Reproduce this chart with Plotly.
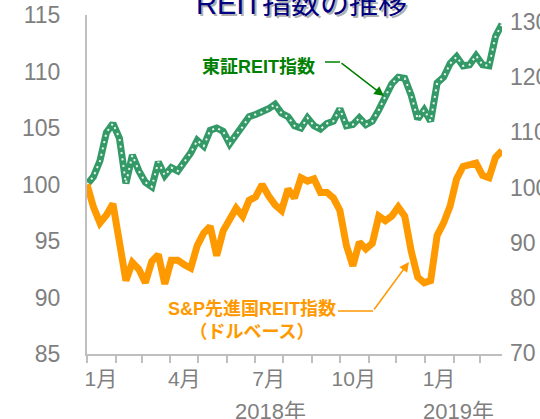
import pandas as pd
import plotly.graph_objects as go

# ---- data ----
dates = pd.date_range("2018-01-01", periods=65, freq="7D")
tse_reit = [100.0, 100.7, 102.1, 104.6, 105.4, 104.1, 100.1, 102.6, 101.2, 100.2,
            99.8, 102.0, 100.8, 101.5, 101.2, 102.0, 102.8, 103.9, 103.4, 104.8,
            105.0, 104.7, 103.6, 104.4, 105.1, 106.0, 106.2, 106.4, 106.7, 107.1,
            106.3, 106.0, 105.2, 105.0, 105.9, 105.2, 104.9, 105.4, 105.6, 106.7,
            105.2, 105.3, 105.9, 105.3, 105.6, 106.6, 107.8, 108.9, 109.5, 109.4,
            107.9, 105.8, 106.6, 105.6, 109.0, 109.5, 110.7, 111.3, 110.5, 110.6,
            111.4, 110.6, 110.5, 113.1, 114.2]
sp_reit = [100.0, 98.0, 96.6, 97.3, 98.3, 94.6, 91.5, 93.1, 92.5, 91.3,
           93.2, 93.8, 91.2, 93.3, 93.3, 92.9, 92.6, 94.6, 95.7, 96.3,
           93.7, 95.9, 97.0, 97.9, 97.2, 98.6, 98.9, 100.0, 99.0, 98.2,
           97.7, 99.6, 98.8, 100.6, 100.3, 100.5, 99.3, 99.3, 98.8, 97.7,
           94.6, 92.8, 94.9, 94.3, 94.8, 97.2, 96.8, 97.2, 98.0, 97.2,
           94.1, 91.8, 91.3, 91.5, 95.5, 96.6, 98.1, 100.5, 101.6, 101.8,
           101.9, 100.8, 100.6, 102.4, 103.0]

x_label_dates = ["2018-01-16", "2018-04-16", "2018-07-16", "2018-10-16", "2019-01-16"]
x_labels = ["1月", "4月", "7月", "10月", "1月"]
month_starts = pd.date_range("2018-01-01", "2019-03-01", freq="MS")
left_ticks = [85, 90, 95, 100, 105, 110, 115]
right_ticks = [70, 80, 90, 100, 110, 120, 130]
years = ["2018年", "2019年"]

title = "REIT指数の推移"
label_tse = "東証REIT指数"
label_sp = "S&amp;P先進国REIT指数<br>（ドルベース）"

GREEN = "#339966"
ORANGE = "#ff9900"
GRAY = "#7f7f7f"
AXIS = "#bfbfbf"
FONT = "Liberation Sans, Arial, Noto Sans CJK JP"

# plot area in pixels
L, R, T, B = 87, 502, 15, 354
W, H = 540, 419


def pxx(v):
    return (v - L) / (R - L)


def pxy(v):
    return (B - v) / (B - T)


fig = go.Figure()
fig.add_trace(go.Scatter(x=dates, y=tse_reit, mode="lines",
                         line=dict(color=GREEN, width=7), hoverinfo="skip",
                         showlegend=False))
fig.add_trace(go.Scatter(x=dates, y=tse_reit, mode="lines",
                         line=dict(color="#eef7f2", width=2, dash="2px,4.5px"),
                         hoverinfo="skip", showlegend=False))
fig.add_trace(go.Scatter(x=dates, y=sp_reit, mode="lines",
                         line=dict(color=ORANGE, width=7), hoverinfo="skip",
                         showlegend=False))
fig.add_trace(go.Scatter(x=[dates[0]], y=[100], yaxis="y2", mode="markers",
                         marker=dict(opacity=0), hoverinfo="skip",
                         showlegend=False))

fig.update_layout(
    width=W, height=H, autosize=False,
    margin=dict(l=L, r=W - R, t=T, b=H - B, pad=0),
    paper_bgcolor="white", plot_bgcolor="white",
    font=dict(family=FONT, color=GRAY),
    xaxis=dict(type="date", range=["2018-01-01", "2019-03-25"], automargin=False,
               tickmode="array", tickvals=x_label_dates, ticktext=x_labels,
               ticks="", showgrid=False, zeroline=False,
               showline=True, linecolor=AXIS, linewidth=2,
               tickfont=dict(size=21, color=GRAY, family=FONT),
               ticklabelstandoff=5,
               minor=dict(tickmode="array", tickvals=list(month_starts),
                          ticks="outside", ticklen=7, tickcolor=AXIS,
                          tickwidth=2, showgrid=False)),
    yaxis=dict(range=[85, 115], tickmode="array", tickvals=left_ticks,
               automargin=False,
               ticks="", showgrid=False, zeroline=False,
               showline=True, linecolor=AXIS, linewidth=2,
               tickfont=dict(size=23, color=GRAY, family=FONT),
               ticklabelstandoff=20),
    yaxis2=dict(range=[69.8, 131.3], overlaying="y", side="right",
                automargin=False,
                tickmode="array", tickvals=right_ticks, ticks="",
                showgrid=False, zeroline=False, showline=False,
                tickfont=dict(size=23, color=GRAY, family=FONT),
                ticklabelstandoff=7),
)

ann = []
# title with shadow
ann.append(dict(text=title, xref="paper", yref="paper", x=pxx(303), y=pxy(6),
                xanchor="center", yanchor="middle", showarrow=False,
                font=dict(size=29, color="#b0b0b0", family=FONT)))
ann.append(dict(text=title, xref="paper", yref="paper", x=pxx(301), y=pxy(4),
                xanchor="center", yanchor="middle", showarrow=False,
                font=dict(size=29, color="#000080", family=FONT)))
# year labels
ann.append(dict(text=years[0], xref="paper", yref="paper", x=pxx(270), y=pxy(411),
                xanchor="center", yanchor="middle", showarrow=False,
                font=dict(size=22, color=GRAY, family=FONT)))
ann.append(dict(text=years[1], xref="paper", yref="paper", x=pxx(458), y=pxy(411),
                xanchor="center", yanchor="middle", showarrow=False,
                font=dict(size=22, color=GRAY, family=FONT)))
# series labels
ann.append(dict(text="<b>" + label_tse + "</b>", xref="paper", yref="paper",
                x=pxx(258), y=pxy(66), xanchor="center", yanchor="middle",
                showarrow=False, font=dict(size=18, color="#008000", family=FONT)))
ann.append(dict(text="<b>" + label_sp + "</b>", xref="paper", yref="paper",
                x=pxx(252), y=pxy(320), xanchor="center", yanchor="middle",
                showarrow=False, font=dict(size=18, color=ORANGE, family=FONT)))
# arrows
ann.append(dict(text="", xref="paper", yref="paper", x=pxx(384), y=pxy(96),
                ax=340 - 384, ay=62 - 96, showarrow=True, arrowhead=2,
                arrowsize=1.3, arrowwidth=1.5, arrowcolor="#008000"))
ann.append(dict(text="", xref="paper", yref="paper", x=pxx(409), y=pxy(262),
                ax=373 - 409, ay=311 - 262, showarrow=True, arrowhead=2,
                arrowsize=1.3, arrowwidth=1.5, arrowcolor=ORANGE))
fig.update_layout(annotations=ann)

fig.add_shape(type="line", xref="paper", yref="paper",
              x0=pxx(325), x1=pxx(340), y0=pxy(62), y1=pxy(62),
              line=dict(color="#008000", width=1.5))
fig.add_shape(type="line", xref="paper", yref="paper",
              x0=pxx(338), x1=pxx(373), y0=pxy(311), y1=pxy(311),
              line=dict(color=ORANGE, width=1.5))

fig.write_html("out.html",
               config={"displayModeBar": False},
               post_script="document.body.style.margin='0';"
                           "document.body.style.overflow='hidden';")
